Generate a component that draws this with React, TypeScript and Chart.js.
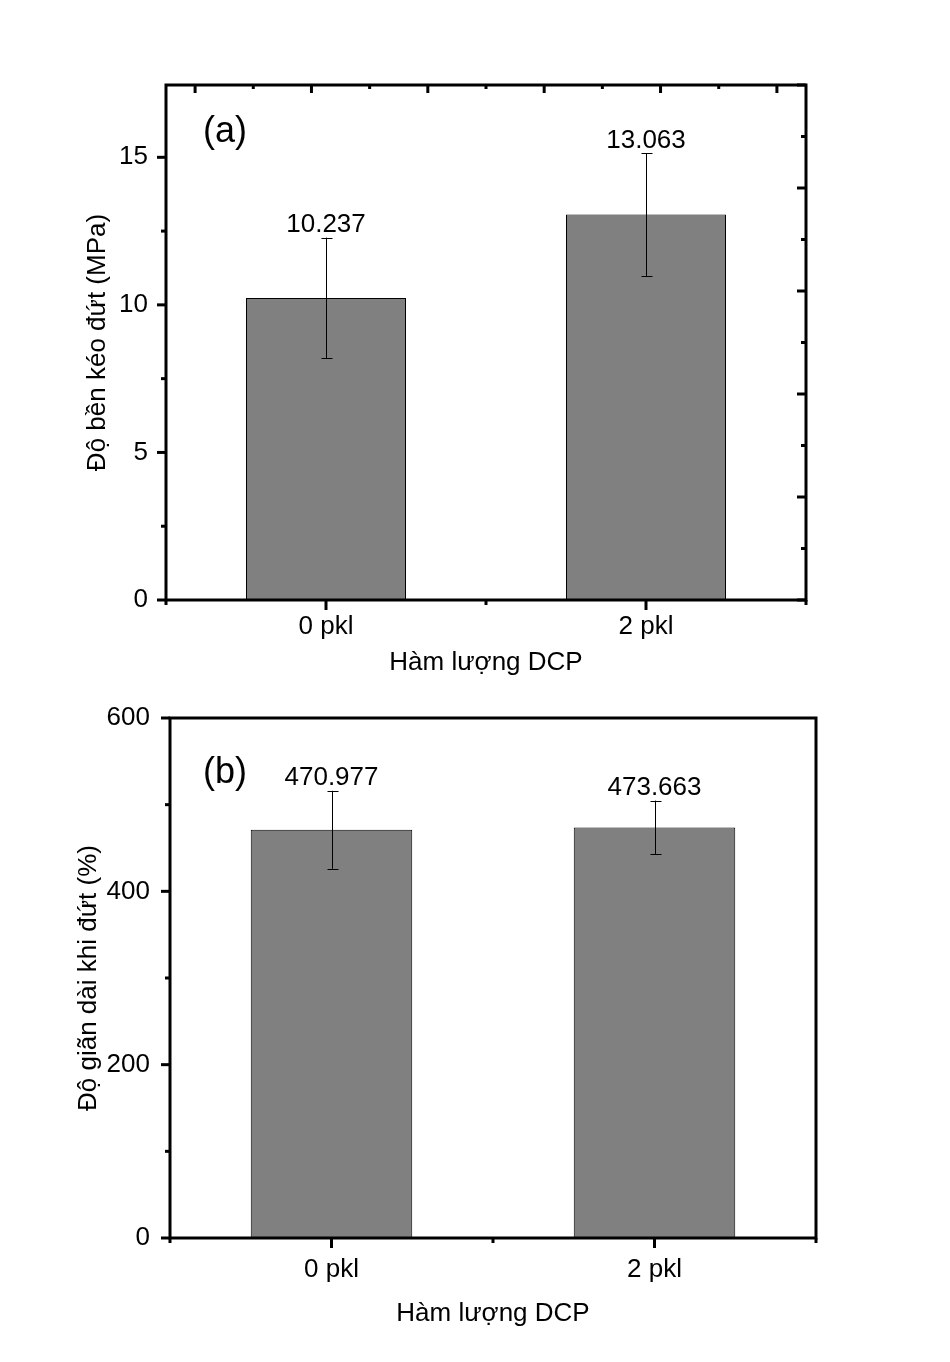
import React, { useEffect, useRef } from 'react';
import { Chart, registerables } from 'chart.js';

Chart.register(...registerables);

// ---- data ----
const CATEGORIES = ['0 pkl', '2 pkl'];
const STRENGTH = [10.237, 13.063];
const STRENGTH_ERR = [2.04, 2.08];
const ELONGATION = [470.977, 473.663];
const ELONGATION_ERR = [45, 31];
const STRENGTH_MINOR = [2.5, 7.5, 12.5];
const ELONGATION_MINOR = [100, 300, 500];
const MIRROR_MAJOR = [0, 1, 2, 3, 4, 5];
const MIRROR_MINOR = [0.5, 1.5, 2.5, 3.5, 4.5];
const X_BOUNDS = [-0.5, 0.5, 1.5];

const FONT = "'Liberation Sans', Arial, sans-serif";
const W = 950;
const H = 681;

const decorPlugin = {
  id: 'decor',
  afterDatasetsDraw(chart: any, _args: any, opts: any) {
    const ctx = chart.ctx;
    const { left, right, top, bottom } = chart.chartArea;
    const ys = chart.scales.y;
    const xs = chart.scales.x;
    const meta = chart.getDatasetMeta(0);
    ctx.save();
    // error bars and value labels
    meta.data.forEach((bar: any, i: number) => {
      const v = opts.values[i];
      const e = opts.errs[i];
      const yt = ys.getPixelForValue(v + e);
      const yb = ys.getPixelForValue(v - e);
      const cx = Math.round(bar.x) + 0.5;
      ctx.strokeStyle = '#000';
      ctx.lineWidth = 1;
      ctx.beginPath();
      ctx.moveTo(cx, yt);
      ctx.lineTo(cx, yb);
      ctx.moveTo(cx - 5, Math.round(yt) + 0.5);
      ctx.lineTo(cx + 6, Math.round(yt) + 0.5);
      ctx.moveTo(cx - 5, Math.round(yb) + 0.5);
      ctx.lineTo(cx + 6, Math.round(yb) + 0.5);
      ctx.stroke();
      ctx.fillStyle = '#000';
      ctx.font = `26px ${FONT}`;
      ctx.textAlign = 'center';
      ctx.textBaseline = 'alphabetic';
      ctx.fillText(v.toFixed(3), bar.x, yt - 5.5);
    });
    // frame
    ctx.strokeStyle = '#000';
    ctx.lineWidth = 3;
    ctx.strokeRect(left, top, right - left, bottom - top);
    const line = (x1: number, y1: number, x2: number, y2: number) => {
      ctx.beginPath();
      ctx.moveTo(x1, y1);
      ctx.lineTo(x2, y2);
      ctx.stroke();
    };
    // left ticks (outward)
    ys.ticks.forEach((t: any) => {
      const py = ys.getPixelForValue(t.value);
      line(left, py, left - 9, py);
    });
    opts.yMinor.forEach((v: number) => {
      const py = ys.getPixelForValue(v);
      line(left, py, left - 5, py);
    });
    // bottom ticks (outward)
    CATEGORIES.forEach((_c, i) => {
      const px = xs.getPixelForTick(i);
      line(px, bottom, px, bottom + 10);
    });
    X_BOUNDS.forEach((v) => {
      const px = xs.getPixelForValue(v);
      line(px, bottom, px, bottom + 5);
    });
    // mirror ticks (inward) on top and right
    if (opts.mirror) {
      const xt = chart.scales.xTop;
      const yr = chart.scales.yRight;
      MIRROR_MAJOR.forEach((v) => {
        const px = xt.getPixelForValue(v);
        line(px, top, px, top + 8);
        const py = yr.getPixelForValue(v);
        line(right, py, right - 9, py);
      });
      MIRROR_MINOR.forEach((v) => {
        const px = xt.getPixelForValue(v);
        line(px, top, px, top + 4);
        const py = yr.getPixelForValue(v);
        line(right, py, right - 5, py);
      });
    }
    // panel label
    ctx.fillStyle = '#000';
    ctx.font = `36px ${FONT}`;
    ctx.textAlign = 'left';
    ctx.textBaseline = 'alphabetic';
    ctx.fillText(opts.panel, left + opts.panelDx, top + opts.panelDy);
    ctx.restore();
  },
};

type PanelProps = {
  values: number[];
  errs: number[];
  yMax: number;
  yStep: number;
  yMinor: number[];
  yTitle: string;
  panel: string;
  panelDx: number;
  panelDy: number;
  mirror: boolean;
  padTop: number;
  padRight: number;
  yWidth: number;
  xHeight: number;
  yTickPad: number;
  xTickPad: number;
  yTitlePad: number;
  xTitlePad: number;
  offsetTop: number;
};

function Panel(p: PanelProps) {
  const ref = useRef<HTMLCanvasElement | null>(null);
  useEffect(() => {
    if (!ref.current) return;
    const tickFont = { family: FONT, size: 26, lineHeight: 1.2 };
    const scales: any = {
      x: {
        type: 'category',
        grid: { display: false, drawTicks: false },
        border: { display: false },
        ticks: { color: '#000', font: tickFont, padding: p.xTickPad, maxRotation: 0, autoSkip: false },
        title: {
          display: true,
          text: 'Hàm lượng DCP',
          color: '#000',
          font: tickFont,
          padding: { top: 0, bottom: p.xTitlePad },
        },
        afterFit: (s: any) => {
          s.height = p.xHeight;
        },
      },
      y: {
        type: 'linear',
        min: 0,
        max: p.yMax,
        grid: { display: false, drawTicks: false },
        border: { display: false },
        ticks: { stepSize: p.yStep, includeBounds: false, color: '#000', font: tickFont, padding: p.yTickPad },
        title: {
          display: true,
          text: p.yTitle,
          color: '#000',
          font: tickFont,
          padding: { top: p.yTitlePad, bottom: 0 },
        },
        afterFit: (s: any) => {
          s.width = p.yWidth;
        },
      },
    };
    if (p.mirror) {
      scales.xTop = { type: 'linear', position: 'top', display: false, min: 0, max: 5 };
      scales.yRight = { type: 'linear', position: 'right', display: false, min: 0, max: 5 };
    }
    const chart = new Chart(ref.current, {
      type: 'bar',
      data: {
        labels: CATEGORIES,
        datasets: [
          {
            data: p.values,
            xAxisID: 'x',
            yAxisID: 'y',
            backgroundColor: '#808080',
            borderColor: '#000',
            borderWidth: 1,
            barPercentage: 0.5,
            categoryPercentage: 1,
          },
        ],
      },
      options: {
        responsive: false,
        animation: false,
        devicePixelRatio: 1,
        layout: { padding: { top: p.padTop, right: p.padRight, left: 0, bottom: 0 } },
        scales,
        plugins: {
          legend: { display: false },
          tooltip: { enabled: false },
          decor: {
            values: p.values,
            errs: p.errs,
            yMinor: p.yMinor,
            mirror: p.mirror,
            panel: p.panel,
            panelDx: p.panelDx,
            panelDy: p.panelDy,
          },
        } as any,
      },
      plugins: [decorPlugin],
    });
    return () => chart.destroy();
  }, []);
  return (
    <canvas
      ref={ref}
      width={W}
      height={H}
      style={{ position: 'absolute', left: 0, top: p.offsetTop, width: W, height: H, display: 'block' }}
    />
  );
}

export default function App() {
  return (
    <div style={{ position: 'absolute', left: 0, top: 0, width: W, height: 1362, background: '#fff' }}>
      <Panel
        values={STRENGTH}
        errs={STRENGTH_ERR}
        yMax={17.45}
        yStep={5}
        yMinor={STRENGTH_MINOR}
        yTitle="Độ bền kéo đứt (MPa)"
        panel="(a)"
        panelDx={37}
        panelDy={56.5}
        mirror={true}
        padTop={85}
        padRight={144}
        yWidth={166}
        xHeight={81}
        yTickPad={18}
        xTickPad={11}
        yTitlePad={82.5}
        xTitlePad={3}
        offsetTop={0}
      />
      <Panel
        values={ELONGATION}
        errs={ELONGATION_ERR}
        yMax={600}
        yStep={200}
        yMinor={ELONGATION_MINOR}
        yTitle="Độ giãn dài khi đứt (%)"
        panel="(b)"
        panelDx={33}
        panelDy={64.5}
        mirror={false}
        padTop={37}
        padRight={134}
        yWidth={170}
        xHeight={124}
        yTickPad={20}
        xTickPad={16}
        yTitlePad={73.5}
        xTitlePad={33}
        offsetTop={681}
      />
    </div>
  );
}
